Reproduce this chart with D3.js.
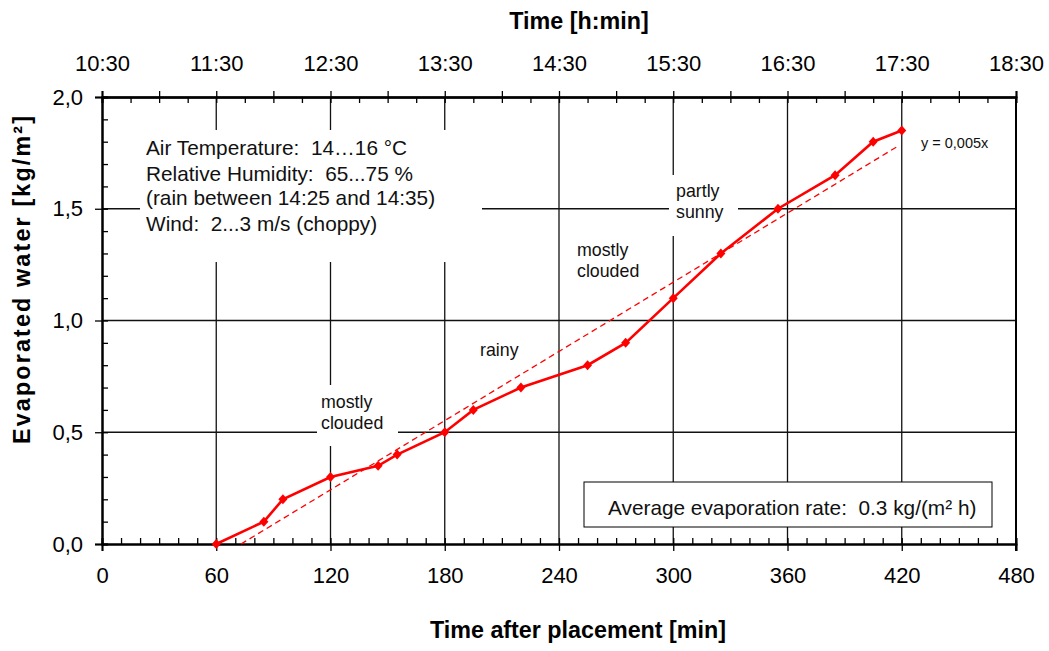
<!DOCTYPE html>
<html>
<head>
<meta charset="utf-8">
<script src="https://d3js.org/d3.v7.min.js"></script>
<style>
  body { margin: 0; background: #fff; }
  text { font-family: "Liberation Sans", Arial, sans-serif; fill: #000; white-space: pre; }
  .axis path, .axis line { stroke: #000; }
  .grid line { stroke: #111; stroke-width: 1.3; }
  .note { fill: #111; }
  .title { font-size: 23.3px; font-weight: bold; }
</style>
</head>
<body>
<svg id="chart" width="1049" height="651"></svg>
<script>
// measured values (minutes after placement, kg/m²)
var minutes = [60, 85, 95, 120, 145, 155, 180, 195, 220, 255, 275, 300, 325, 355, 385, 405, 420];
var water   = [0, 0.1, 0.2, 0.3, 0.35, 0.4, 0.5, 0.6, 0.7, 0.8, 0.9, 1.1, 1.3, 1.5, 1.65, 1.8, 1.85];
// dashed trend line y = 0,005x
var trendX = [73, 418];
var trendY = [0, 1.78];

var xTicks = [0, 60, 120, 180, 240, 300, 360, 420, 480];
var yTicks = [0, 0.5, 1.0, 1.5, 2.0];
var timeLabels = ["10:30", "11:30", "12:30", "13:30", "14:30", "15:30", "16:30", "17:30", "18:30"];

var svg = d3.select("#chart");
var x = d3.scaleLinear().domain([0, 480]).range([102, 1016]);
var y = d3.scaleLinear().domain([0, 2]).range([544, 97]);

// grid
var grid = svg.append("g").attr("class", "grid");
grid.selectAll(".v").data(xTicks.slice(1)).enter().append("line")
    .attr("x1", d => x(d)).attr("x2", d => x(d))
    .attr("y1", y(0)).attr("y2", y(2));
grid.selectAll(".h").data([0.5, 1.0, 1.5]).enter().append("line")
    .attr("x1", x(0)).attr("x2", x(480))
    .attr("y1", d => y(d)).attr("y2", d => y(d));

// white backgrounds behind the notes (they cut the grid)
[[140, 130, 342, 132], [317, 385, 81, 61], [669, 175, 69, 61]].forEach(function(r) {
    svg.append("rect").attr("x", r[0]).attr("y", r[1]).attr("width", r[2]).attr("height", r[3])
        .attr("fill", "#fff");
});

function styleAxis(g) {
    g.selectAll("path").attr("stroke-width", 2);
    g.selectAll("line").attr("stroke-width", 1.3);
    g.selectAll(".tick text").style("font-size", "22px").style("font-family", "Liberation Sans, Arial, sans-serif");
}

// bottom axis
var bottomAx = svg.append("g").attr("class", "axis").attr("transform", "translate(0," + y(0) + ")");
bottomAx.call(d3.axisBottom(x).tickValues(xTicks).tickSize(7).tickPadding(16));
bottomAx.append("g").call(d3.axisBottom(x).tickValues(d3.range(0, 481, 10)).tickSize(-6).tickFormat(""));
styleAxis(bottomAx);

// top axis (clock time)
var topAx = svg.append("g").attr("class", "axis").attr("transform", "translate(0," + y(2) + ")");
topAx.call(d3.axisTop(x).tickValues(xTicks).tickSize(0).tickPadding(26).tickFormat((d, i) => timeLabels[i]));
topAx.append("g").call(d3.axisTop(x).tickValues(d3.range(0, 481, 30)).tickSize(6).tickFormat(""));
topAx.append("g").call(d3.axisTop(x).tickValues(d3.range(0, 481, 15)).tickSize(-6).tickFormat(""));
styleAxis(topAx);

// left axis
var leftAx = svg.append("g").attr("class", "axis").attr("transform", "translate(" + x(0) + ",0)");
leftAx.call(d3.axisLeft(y).tickValues(yTicks).tickSize(7).tickPadding(12).tickFormat(d => d3.format(".1f")(d).replace(".", ",")));
leftAx.append("g").call(d3.axisLeft(y).tickValues(d3.range(0, 21).map(d => d / 10)).tickSize(-6).tickFormat(""));
styleAxis(leftAx);

// right frame
svg.append("line").attr("x1", x(480)).attr("x2", x(480)).attr("y1", y(2)).attr("y2", y(0) + 7)
    .attr("stroke", "#000").attr("stroke-width", 2);

// trend line
svg.append("line")
    .attr("x1", x(trendX[0])).attr("y1", y(trendY[0]))
    .attr("x2", x(trendX[1])).attr("y2", y(trendY[1]))
    .attr("stroke", "#ff0000").attr("stroke-width", 1.3).attr("stroke-dasharray", "6,4");

// measured series
var pts = minutes.map((m, i) => [m, water[i]]);
svg.append("path").datum(pts)
    .attr("d", d3.line().x(d => x(d[0])).y(d => y(d[1])))
    .attr("fill", "none").attr("stroke", "#ff0000").attr("stroke-width", 2.6);
svg.selectAll(".pt").data(pts).enter().append("path")
    .attr("transform", d => "translate(" + x(d[0]) + "," + y(d[1]) + ")")
    .attr("d", "M0,-5L4.5,0L0,5L-4.5,0Z")
    .attr("fill", "#ff0000");

// notes
function lines(xp, baselines, strs, size) {
    strs.forEach(function(s, i) {
        svg.append("text").attr("class", "note").attr("x", xp).attr("y", baselines[i])
            .style("font-size", size || "17.8px").text(s);
    });
}
lines(146, [155, 180.5, 205, 230.5], ["Air Temperature:  14…16 °C", "Relative Humidity:  65...75 %",
    "(rain between 14:25 and 14:35)", "Wind:  2...3 m/s (choppy)"], "20.8px");
lines(321, [408, 429], ["mostly", "clouded"]);
lines(480, [356], ["rainy"]);
lines(577, [256, 277], ["mostly", "clouded"]);
lines(676, [197, 218], ["partly", "sunny"]);
lines(921, [148], ["y = 0,005x"], "14.5px");

// average rate box
svg.append("rect").attr("x", 584).attr("y", 482).attr("width", 408).attr("height", 45)
    .attr("fill", "#fff").attr("stroke", "#000").attr("stroke-width", 1);
lines(608, [515], ["Average evaporation rate:  0.3 kg/(m² h)"], "20.8px");

// axis titles
svg.append("text").attr("class", "title").attr("x", 579).attr("y", 29).attr("text-anchor", "middle").text("Time [h:min]");
svg.append("text").attr("class", "title").attr("x", 578).attr("y", 638).attr("text-anchor", "middle").text("Time after placement [min]");
svg.append("text").attr("class", "title").attr("text-anchor", "middle")
    .attr("transform", "translate(30,280) rotate(-90)")
    .attr("textLength", 328).attr("lengthAdjust", "spacing")
    .text("Evaporated water [kg/m²]");
</script>
</body>
</html>
